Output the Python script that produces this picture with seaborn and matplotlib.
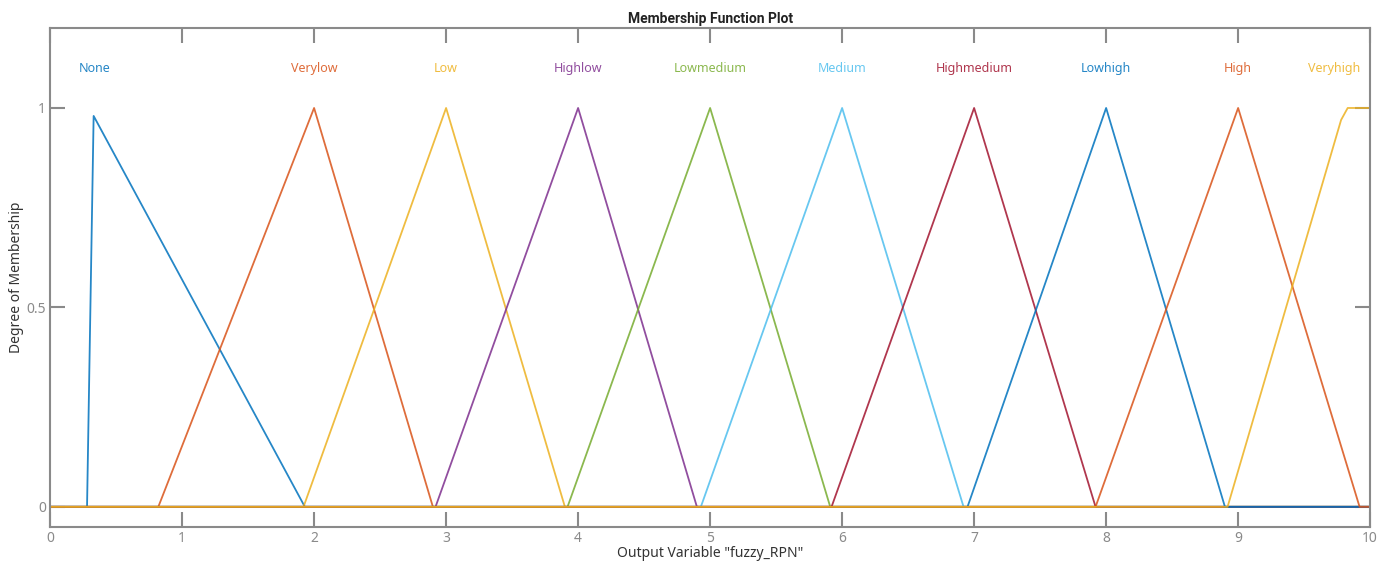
import matplotlib
matplotlib.use("Agg")
import matplotlib.pyplot as plt
import pandas as pd
import seaborn as sns

# membership function vertices (x, degree)
NAMES = ["None", "Verylow", "Low", "Highlow", "Lowmedium",
         "Medium", "Highmedium", "Lowhigh", "High", "Veryhigh"]
MF_X = [
    [0, 0.28, 0.33, 1.93, 10],
    [0, 0.82, 2, 2.9, 10],
    [0, 1.92, 3, 3.9, 10],
    [0, 2.92, 4, 4.9, 10],
    [0, 3.92, 5, 5.91, 10],
    [0, 4.93, 6, 6.92, 10],
    [0, 5.92, 7, 7.92, 10],
    [0, 6.95, 8, 8.9, 10],
    [0, 7.92, 9, 9.92, 10],
    [0, 8.92, 9.78, 9.83, 10],
]
MF_Y = [
    [0, 0, 0.98, 0, 0],
    [0, 0, 1, 0, 0],
    [0, 0, 1, 0, 0],
    [0, 0, 1, 0, 0],
    [0, 0, 1, 0, 0],
    [0, 0, 1, 0, 0],
    [0, 0, 1, 0, 0],
    [0, 0, 1, 0, 0],
    [0, 0, 1, 0, 0],
    [0, 0, 0.97, 1, 1],
]
LABEL_X = [0.34, 2, 3, 4, 5, 6, 7, 8, 9, 9.73]
LABEL_Y = 1.1

# MATLAB default line colour order
COLORS = ["#0072BD", "#D95319", "#EDB120", "#7E2F8E", "#77AC30",
          "#4DBEEE", "#A2142F", "#0072BD", "#D95319", "#EDB120"]

sns.set_style("white")
plt.rcParams["font.family"] = ["Noto Sans", "DejaVu Sans"]

fig = plt.figure(figsize=(13.91, 5.64), dpi=100)
ax = fig.add_axes([0.036, 0.066, 0.949, 0.884])

for name, xs, ys, color, lx in zip(NAMES, MF_X, MF_Y, COLORS, LABEL_X):
    df = pd.DataFrame({"x": xs, "y": ys})
    sns.lineplot(data=df, x="x", y="y", sort=False, color=color,
                 linewidth=1.3, alpha=0.85, ax=ax)
    ax.text(lx, LABEL_Y, name, color=color, fontsize=9, ha="center", va="center", alpha=0.85)

ax.set_xlim(0, 10)
ax.set_ylim(-0.05, 1.2)
ax.set_xticks(range(0, 11))
ax.set_yticks([0, 0.5, 1])
ax.set_yticklabels(["0", "0.5", "1"])

gray = "#8a8a8a"
for sp in ax.spines.values():
    sp.set_visible(True)
    sp.set_color(gray)
    sp.set_linewidth(1.5)
ax.tick_params(direction="in", length=11, width=1.5, color=gray, labelcolor=gray,
               labelsize=10, top=True, right=True, bottom=True, left=True)
ax.tick_params(axis="x", pad=3)
ax.tick_params(axis="y", pad=3)

ax.set_title("Membership Function Plot", fontsize=10, fontweight="bold",
             family=["Roboto", "DejaVu Sans"], color="#222222", pad=4)
ax.set_xlabel('Output Variable "fuzzy_RPN"', fontsize=10, color="#333333", labelpad=0)
ax.set_ylabel("Degree of Membership", fontsize=10, color="#333333", labelpad=2)

fig.savefig("out.png", dpi=100)
